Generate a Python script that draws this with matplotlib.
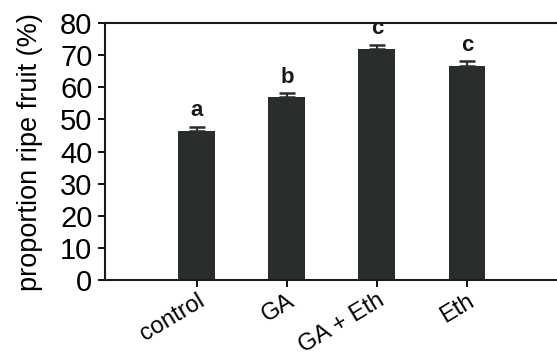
import matplotlib.pyplot as plt
import numpy as np

plt.rcParams['font.family'] = ['Liberation Sans', 'DejaVu Sans']

# data
treatments = ['control', 'GA', 'GA + Eth', 'Eth']
ripe = [46.3, 56.9, 71.8, 66.6]
err = [1.5, 1.4, 1.5, 1.5]
letters = ['a', 'b', 'c', 'c']

fig = plt.figure(figsize=(5.57, 3.61), dpi=100)
ax = fig.add_axes([0.1885, 0.224, 0.8115, 0.712])

x = np.arange(len(treatments))
ax.bar(x, ripe, width=0.41, color='#2a2e2b', zorder=2)
ax.errorbar(x, ripe, yerr=[np.zeros(len(err)), err], fmt='none',
            ecolor='#2a2e2b', elinewidth=1.5, capsize=6, capthick=1.8, zorder=3)

for xi, v, e, lab in zip(x, ripe, err, letters):
    ax.text(xi, v + e + 1.6, lab, ha='center', va='bottom',
            fontsize=16, fontweight='bold', color='#1a1a1a')

ax.set_xlim(-1.02, 4.0)
ax.set_ylim(0, 80)
ax.set_yticks(np.arange(0, 81, 10))
ax.set_xticks(x)
ax.set_xticklabels(treatments, rotation=31, ha='right', rotation_mode='anchor',
                   fontsize=17)
ax.tick_params(axis='y', labelsize=21, length=5, width=1.3, pad=4)
ax.tick_params(axis='x', length=5, width=1.3, pad=2)
ax.set_ylabel('proportion ripe fruit (%)', fontsize=19.5, labelpad=12)

for s in ['left', 'bottom', 'top']:
    ax.spines[s].set_linewidth(1.5)
    ax.spines[s].set_color('#1a1a1a')
ax.spines['right'].set_visible(False)

fig.savefig('out.png', dpi=100)
